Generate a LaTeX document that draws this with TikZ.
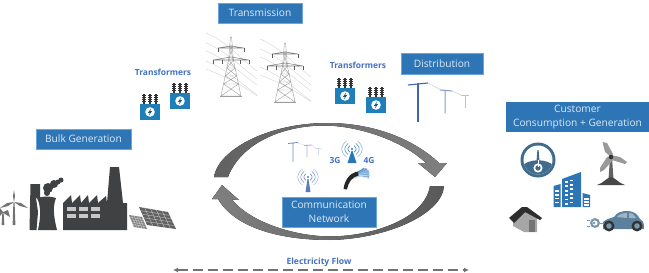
\documentclass[tikz,border=0pt]{standalone}
\usepackage{fontspec}
\setmainfont{Open Sans}
\usetikzlibrary{arrows.meta}
\definecolor{boxblue}{HTML}{2E75B6}
\definecolor{boxedge}{HTML}{6AA5DC}
\definecolor{boxtext}{HTML}{DCE9F5}
\definecolor{labelblue}{HTML}{4472C4}
\definecolor{tankblue}{HTML}{1F7FB8}
\definecolor{plantgray}{HTML}{3F4143}
\definecolor{poleblue}{HTML}{3F66B0}
\definecolor{steel}{HTML}{3F6B8C}
\tikzset{
  x=1pt,y=-1pt,
  titlebox/.style={draw=boxedge,line width=.7pt,fill=boxblue,text=boxtext,
    align=center,inner sep=0pt,font=\fontsize{10.2}{14}\selectfont},
  bluelabel/.style={text=labelblue,inner sep=0pt,font=\fontsize{8.4}{9}\selectfont\bfseries},
  wire/.style={draw=black!18,line width=.35pt},
  lattice/.style={draw=black!38,line width=.4pt},
  signal/.style={draw=#1,line width=.55pt},
}
% Pole-mounted transformer: tank with three bushings and a lightning badge
\newcommand{\tankicon}[2]{%
  \begin{scope}[shift={(#1,#2)}]
    \foreach \bx in {4,10,16}{
      \fill[black!80] (\bx-1.1,-10.5) rectangle (\bx+1.1,0);
      \foreach \by in {-8.5,-6.5,-4.5,-2.5}{\fill[black!80] (\bx-1.9,\by-.7) rectangle (\bx+1.9,\by+.7);}
    }
    \fill[tankblue] (0,0) rectangle (20,16);
    \fill[white] (10,8) circle[radius=4.8];
    \fill[tankblue!70!black] (11,4.5) -- (8,8.8) -- (9.8,8.8) -- (9,11.5) -- (12,7.2) -- (10.2,7.2) -- cycle;
  \end{scope}}
% Lattice transmission tower with conductors running through it
\newcommand{\pylon}[2]{%
  \begin{scope}[shift={(#1,#2)}]
    \foreach \wa/\wb in {-4/34,6/42,14/48,24/58,32/59}{
      \draw[wire] (-25,\wa) .. controls (-5,\wa+8) and (10,\wb-12) .. (26,\wb);
    }
    \draw[lattice] (-10,59) -- (-2.4,23) -- (-.6,0) -- (.6,0) -- (2.4,23) -- (10,59);
    \draw[lattice] (-11,59) -- (11,59);
    \foreach \ya/\yb/\ha/\hb in {23/31/2.4/4.1,31/39/4.1/5.8,39/47/5.8/7.4,47/59/7.4/10}{
      \draw[lattice] (-\ha,\ya) -- (\hb,\yb) (\ha,\ya) -- (-\hb,\yb) (-\hb,\yb) -- (\hb,\yb);
    }
    \draw[lattice] (-1,8) -- (2,23) (1,8) -- (-2,23);
    \draw[draw=black!50,line width=.55pt] (-13,11) -- (0,9) -- (13,11) -- cycle;
    \draw[draw=black!50,line width=.55pt] (-18,23) -- (0,20) -- (18,23) -- cycle;
    \foreach \ix/\iy in {-13/11,13/11,-18/23,-9/23,9/23,18/23}{
      \draw[black!65,line width=.8pt] (\ix,\iy) -- (\ix,\iy+4);
    }
  \end{scope}}
% Radio mast: tapered tower and pairs of curved signal marks
\newcommand{\mastsig}[5]{%
  \begin{scope}[shift={(#1,#2)}]
    \fill[#5] (-.5,2) -- (.5,2) -- (#3,#4) -- (-#3,#4) -- cycle;
    \fill[#5] (0,0) circle[radius=1.1];
    \foreach \rr/\sh in {4/100,7/80,10/55}{
      \draw[signal=#5!\sh!white] (-.55*\rr,-.8*\rr) .. controls (-1.2*\rr,-.3*\rr) and (-1.2*\rr,.3*\rr) .. (-.55*\rr,.8*\rr);
      \draw[signal=#5!\sh!white] (.55*\rr,-.8*\rr) .. controls (1.2*\rr,-.3*\rr) and (1.2*\rr,.3*\rr) .. (.55*\rr,.8*\rr);
    }
  \end{scope}}
\begin{document}
\begin{tikzpicture}
\useasboundingbox[fill=white] (0,0) rectangle (649,273);

% Section headings
\node[titlebox,minimum width=95pt,minimum height=20pt] (bulk) at (83.5,139) {Bulk Generation};
\node[titlebox,minimum width=84pt,minimum height=20pt] (trans) at (260,13) {Transmission};
\node[titlebox,minimum width=82pt,minimum height=21pt] (dist) at (442,63.5) {Distribution};
\node[titlebox,minimum width=143pt,minimum height=30pt,draw=none] (cust) at (577.5,117) {Customer\\Consumption + Generation};

% Wind turbines of the generation plant
\fill[black!55] (13.4,203) -- (14.6,203) -- (15.4,225) -- (12.6,225) -- cycle;
\fill[black!55] (14,202) -- (13,196) -- (14,190) -- (15,196) -- cycle
  (14,202) -- (21,203) -- (28,208) -- (20,206) -- cycle
  (14,202) -- (7,203) -- (0,208) -- (8,206) -- cycle;
\fill[black!55] (2.4,212) -- (3.6,212) -- (4.4,225) -- (1.6,225) -- cycle;
\fill[black!55] (3,212) -- (8,210) -- (10,217) -- (5,214) -- cycle
  (3,212) -- (0,208) -- (0,216) -- cycle;

% Cooling towers and smoke
\fill[plantgray] (30.5,184) -- (40,184) -- (40,198) -- (36,198) -- (38,212) -- (36.5,230) -- (29.5,230) -- cycle;
\fill[plantgray] (37,198) .. controls (44,196) and (50,196) .. (56,198)
  .. controls (53,206) and (53,214) .. (57,230) -- (38,230) .. controls (41,216) and (41,206) .. cycle;
\fill[plantgray] (48,188) circle[radius=5] (47,193) circle[radius=3] (54,184) circle[radius=4]
  (58,182) circle[radius=2.5] (61,180) circle[radius=2.5];

% Factory with saw-tooth roof and chimney
\fill[plantgray] (63,230) -- (63,203) -- (71,195) -- (72,203) -- (80,195) -- (81,203) -- (88,195)
  -- (89,203) -- (97,195) -- (98,203) -- (106,196) -- (107,203) -- (110,167) -- (119,167)
  -- (123,203) -- (127,203) -- (127,230) -- cycle;
\foreach \wx in {67,79,91}{\foreach \wy in {207,214}{
  \fill[black!22] (\wx,\wy) rectangle (\wx+8.5,\wy+4);
}}

% Solar panels
\fill[black!50] (129,215) -- (142,217) -- (147,229) -- (134,227) -- cycle;
\fill[black!62] (139,207) -- (168,212) -- (176,229) -- (147,225) -- cycle;
\foreach \t in {.2,.4,.6,.8}{
  \draw[black!20,line width=.35pt] ({139+29*\t},{207+5*\t}) -- ({147+29*\t},{225+4*\t});
  \draw[black!20,line width=.35pt] ({139+8*\t},{207+18*\t}) -- ({168+8*\t},{212+17*\t});
  \draw[black!15,line width=.3pt] ({129+13*\t},{215+2*\t}) -- ({134+13*\t},{227+2*\t});
  \draw[black!15,line width=.3pt] ({129+5*\t},{215+12*\t}) -- ({142+5*\t},{217+12*\t});
}

% Transformer groups
\node[bluelabel] (xfa) at (163,72) {Transformers};
\tankicon{140}{104}
\tankicon{170}{93}
\node[bluelabel] (xfb) at (358,65) {Transformers};
\tankicon{335}{88}
\tankicon{366}{97}

% Transmission towers
\pylon{231}{37}
\pylon{285}{43}

% Distribution poles
\draw[black!25,line width=.35pt] (428,83) -- (441,90) (452,91) -- (461,95);
\draw[poleblue,line width=1.1pt] (418,83) -- (418,122);
\draw[poleblue,line width=1.1pt] (408,85) -- (418,84) -- (428,83);
\draw[poleblue!65!white,line width=1pt] (445,90) -- (445,113) (440,90) -- (452,91);
\draw[poleblue!40!white,line width=1pt] (465,95) -- (465,108) (461,95) -- (469,95);

% Circular flow arrows
\fill[left color=black!62,middle color=black!32,right color=black!50]
  (214,177) .. controls (218,150) and (268,123) .. (327,123)
  .. controls (375,123) and (415,140) .. (439,163)
  -- (447,163) -- (435,177) -- (418,163) -- (426,163)
  .. controls (405,143) and (365,127) .. (327,125.5)
  .. controls (280,125) and (240,145) .. (228,177) -- cycle;
\fill[left color=black!50,middle color=black!40,right color=black!65]
  (444,186) .. controls (442,215) and (385,239) .. (330,240)
  .. controls (280,240) and (235,228) .. (218,199)
  -- (212,199) -- (222,185) -- (239,200) -- (232,199.5)
  .. controls (248,220) and (290,236) .. (330,236.5)
  .. controls (375,236) and (425,218) .. (430,186) -- cycle;

% Communication network icons
\draw[poleblue!75!white,line width=.8pt] (293,143) -- (293,162) (288,143.5) -- (298,142.5);
\draw[poleblue!50!white,line width=.8pt] (307,145) -- (307,157) (304,145.5) -- (312,145);
\draw[poleblue!25!white,line width=.8pt] (318,148) -- (318,155) (315,148) -- (321,148);
\draw[black!20,line width=.3pt] (298,143) -- (304,145) (312,145) -- (315,148);
\mastsig{352}{149}{4.5}{14}{tankblue!70!poleblue}
\mastsig{308}{177}{2.5}{15}{poleblue!85!white}
\node[bluelabel] (gthree) at (335,160) {3G};
\node[bluelabel] (gfour) at (369,160) {4G};
% Optical fibre bundle fanning out from a dark cable
\fill[boxblue!60!white] (352,177) .. controls (356,172) and (361,169) .. (366,168)
  -- (369,172) -- (369,178) .. controls (364,176) and (358,176) .. (352,179) -- cycle;
\foreach \ex/\ey/\fc in {
  370/179/DCEAF6,370.5/176/BDD7EE,370/173/A6C8E8,369/170.5/8FBBE0,367/169/6FA5D4,364/168/4E8FC6}{
  \definecolor{strand}{HTML}{\fc}
  \draw[strand,line width=.8pt] (347,186) .. controls (349,177) and (356,174) .. (\ex,\ey);
}
\fill[black!85] (343.5,189) .. controls (345,179) and (350,173) .. (358,171.5)
  -- (358.5,175.5) .. controls (352,177) and (348.5,182) .. (347,189.5) -- cycle;
\node[titlebox,minimum width=94pt,minimum height=30pt] (comm) at (329,212) {Communication\\Network};

% Smart meter dial
\fill[steel] (538,160) circle[radius=17.5];
\begin{scope}
  \clip (538,160) circle[radius=14.5];
  \fill[white] (520,140) rectangle (556,180);
  \fill[steel] (521,167) .. controls (528,158) and (548,158) .. (555,167) -- (555,180) -- (521,180) -- cycle;
\end{scope}
\fill[steel] (537.4,150) -- (538.6,150) -- (539.8,165) -- (536.2,165) -- cycle;
\fill[white] (538,168) circle[radius=4.6];
\fill[steel] (538,168) circle[radius=2.7];
\fill[white] (537.5,160) rectangle (538.5,167);

% Small turbine
\fill[black!62] (610,158) -- (612,158) -- (613.5,179) -- (608.5,179) -- cycle;
\fill[black!72] (597,185) .. controls (604,183) and (606,178) .. (611,177)
  .. controls (616,178) and (618,183) .. (625,185) -- cycle;
\fill[black!40] (611,157) -- (605,152) -- (602.5,142) -- (607,143) -- (613,154) -- cycle;
\fill[black!40] (611,155) -- (620,157) -- (627,162) -- (625,164) -- (612,160) -- cycle;
\fill[black!40] (611,156) -- (613,160) -- (604,170) -- (600,172) -- (600,168) -- (607,157) -- cycle;
\fill[black!80] (611,157) circle[radius=2.3];

% Office block
\fill[boxblue] (562,179) -- (581,172) -- (581,207) -- (562,207) -- cycle;
\fill[boxblue] (553.5,186) -- (560.5,184) -- (560.5,207) -- (553.5,207) -- cycle;
\fill[boxblue] (582.5,193) -- (590,195) -- (590,207) -- (582.5,207) -- cycle;
\foreach \row in {0,...,5}{
  \foreach \col in {0,1}{
    \fill[white] ({565+\col*5},{181+\row*4.4-\col*1.5}) rectangle ++(3,1.8);
  }
}
\foreach \row in {0,1,2,3}{
  \fill[white] (555,{190+\row*3.9}) rectangle ++(4,1.6);
}
\foreach \row in {0,1,2}{
  \fill[white] (584,{198+\row*3}) rectangle ++(4.5,1.5);
}

% House
\fill[black!35] (513,217) -- (525,209) -- (537,217) -- (537,232) -- (524,232) -- (513,226) -- cycle;
\fill[black!55] (529,220) rectangle (535,232);
\fill[black!82] (509,218) -- (522,207) -- (527,207) -- (542,218) -- (540,220) -- (525,212) -- (514,223) -- cycle;

% Electric car and charging plug
\fill[steel!85!white] (603,229) -- (603,222) .. controls (606,219) and (611,218) .. (614,217)
  .. controls (617,212) and (622,211) .. (628,211) .. controls (634,211) and (638,215) .. (640,219)
  .. controls (643,220) and (644,222) .. (644,229) -- cycle;
\fill[steel!50!white] (617,217) .. controls (619,214) and (623,213) .. (627,213) -- (627,218) -- cycle
  (629,213) .. controls (633,213) and (635,216) .. (636,218) -- (629,218) -- cycle;
\foreach \wx in {609,637}{
  \fill[black!80] (\wx,226) circle[radius=5.5];
  \fill[steel!70!white] (\wx,226) circle[radius=2.8];
}
\fill[steel!70!white] (595,223) circle[radius=5];
\fill[white] (595,223) circle[radius=2.6];
\fill[steel!70!white] (594,223) circle[radius=1.3];
\draw[steel!70!white,line width=1pt] (590,220) -- (587,220) (590,226) -- (587,226);
\draw[steel!70!white,line width=.8pt] (600,223) -- (604,223);

% Electricity flow
\node[bluelabel,font=\fontsize{8.6}{9}\selectfont\bfseries] (flow) at (319,262) {Electricity Flow};
\coordinate (flowL) at (173,270);
\coordinate (flowR) at (469,270);
\draw[black!55,line width=1.3pt,dash pattern=on 10pt off 5pt,{Latex[length=5pt,width=5pt]}-{Latex[length=5pt,width=5pt]}] (flowL) -- (flowR);
\end{tikzpicture}
\end{document}
